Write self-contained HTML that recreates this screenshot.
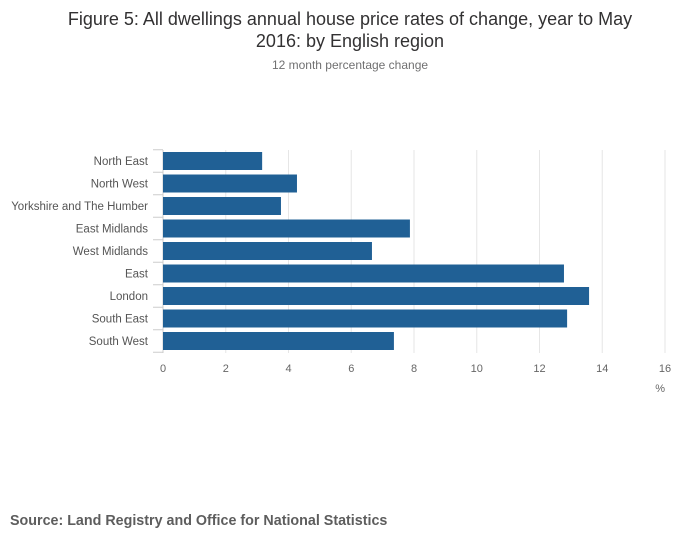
<!DOCTYPE html>
<html><head><meta charset="utf-8"><style>
body{margin:0;background:#fff;font-family:"Liberation Sans",sans-serif;}
#wrap{position:relative;width:700px;height:549px;overflow:hidden;}
.t{position:absolute;left:0;width:700px;text-align:center;color:#323132;}
</style></head><body>
<div id="wrap">
<div class="t" style="top:8px;font-size:18px;line-height:22px;">Figure 5: All dwellings annual house price rates of change, year to May<br>2016: by English region</div>
<div class="t" style="top:58px;font-size:12px;color:#707071;">12 month percentage change</div>
<svg id="chart" width="700" height="549" style="position:absolute;left:0;top:0"></svg>
<div style="position:absolute;left:10px;top:513px;font-size:14.3px;font-weight:bold;color:#5d5d5d;">Source: Land Registry and Office for National Statistics</div>
</div>
<script>
const categories=["North East","North West","Yorkshire and The Humber","East Midlands","West Midlands","East","London","South East","South West"];
const values=[3.16,4.27,3.76,7.87,6.66,12.78,13.58,12.88,7.36];
const ticks=[0,2,4,6,8,10,12,14,16];
const NS="http://www.w3.org/2000/svg";
const svg=document.getElementById('chart');
const x0=163,x1=665,xmax=16;
const xs=v=>x0+(x1-x0)*v/xmax;
const top0=150,step=22.5,bh=18;
const yc=i=>top0+11+i*step;
function mk(t,a){const e=document.createElementNS(NS,t);for(const k in a)e.setAttribute(k,a[k]);svg.appendChild(e);return e;}
ticks.forEach(t=>{
  const g=mk('line',{x1:xs(t),x2:xs(t),y1:top0,y2:353,stroke:t===0?'#ccc':'#e6e6e6','stroke-width':1});
  
  
  const l=mk('text',{x:xs(t),y:372,'text-anchor':'middle','font-size':11,fill:'#666','font-family':'Liberation Sans, sans-serif'});
  l.textContent=t;
  
  
});
const u=mk('text',{x:665,y:392,'text-anchor':'end','font-size':11,fill:'#666','font-family':'Liberation Sans, sans-serif'});
u.textContent='%';


categories.forEach((c,i)=>{
  const r=mk('rect',{x:xs(0),y:yc(i)-bh/2,width:xs(values[i])-xs(0),height:bh,fill:'#206095'});
  
  
  const tk=mk('line',{x1:153,x2:163,y1:yc(i)-step/2,y2:yc(i)-step/2,stroke:'#ccc'});
  
  
  const l=mk('text',{x:148,y:yc(i)+4,'text-anchor':'end','font-size':11.5,fill:'#555','font-family':'Liberation Sans, sans-serif'});
  l.textContent=c;
  
  
});
const tk=mk('line',{x1:153,x2:163,y1:yc(categories.length-1)+step/2,y2:yc(categories.length-1)+step/2,stroke:'#ccc'});


</script>
</body></html>
